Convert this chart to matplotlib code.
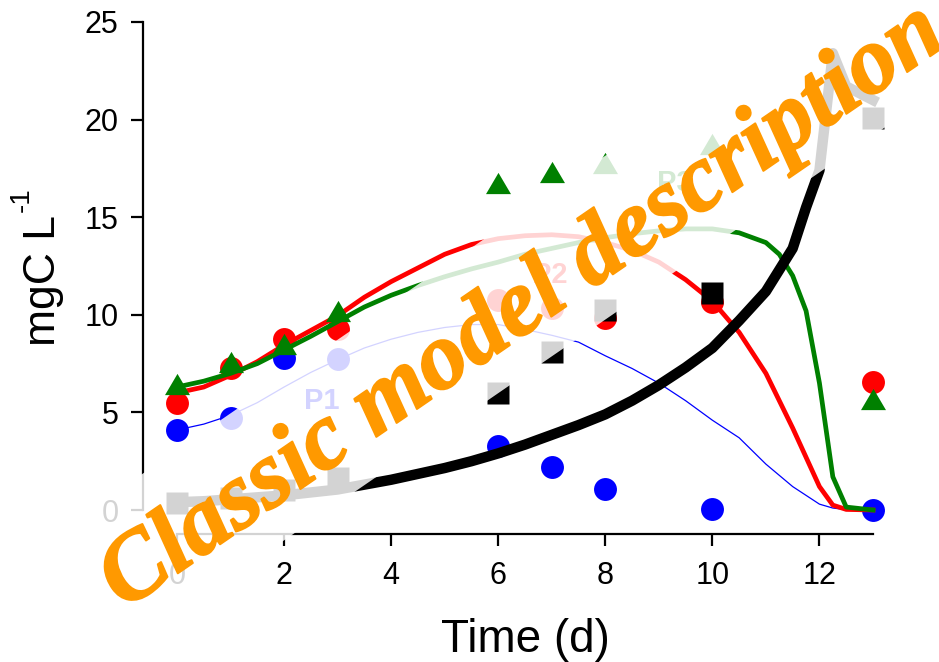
import numpy as np
import matplotlib
matplotlib.use("Agg")
import matplotlib.pyplot as plt
import matplotlib.patheffects as pe
from matplotlib.patches import Polygon
from matplotlib.transforms import IdentityTransform

plt.rcParams['font.family'] = ['Liberation Sans', 'DejaVu Sans']

# observations
obs_days = [0, 1, 2, 3, 6, 7, 8, 10, 13]
p1_obs = [4.1, 4.7, 7.8, 7.75, 3.3, 2.2, 1.07, 0.05, 0.0]
p2_obs = [5.5, 7.3, 8.75, 9.27, 10.75, 10.35, 9.85, 10.65, 6.56]
p3_obs = [6.45, 7.6, 8.5, 10.2, 16.75, 17.3, 17.8, 18.75, 5.7]
b_days = [0, 1, 2, 3, 6, 7, 8, 10, 13]
b_obs = [0.35, 0.6, 1.0, 1.65, 6.0, 8.1, 10.25, 11.1, 20.1]

# model output
t_p1 = [0, 0.5, 1, 1.5, 2, 2.5, 3, 3.5, 4, 4.5, 5, 5.5, 6, 6.5, 7, 7.5, 8,
        8.5, 9, 9.5, 10, 10.5, 11, 11.5, 12, 12.25, 12.5, 13]
m_p1 = [4.1, 4.4, 4.85, 5.5, 6.3, 7.05, 7.7, 8.3, 8.75, 9.1, 9.35, 9.5, 9.5,
        9.25, 8.95, 8.6, 7.9, 7.25, 6.5, 5.6, 4.6, 3.7, 2.35, 1.2, 0.3, 0.1,
        0.02, 0.0]
t_p2 = [0, 0.5, 1, 1.5, 2, 2.5, 3, 3.5, 4, 4.5, 5, 5.5, 6, 6.5, 7, 7.5, 8,
        8.5, 9, 9.5, 10, 10.5, 11, 11.5, 12, 12.25, 12.5, 13]
m_p2 = [6.0, 6.3, 6.9, 7.6, 8.45, 9.2, 9.95, 10.9, 11.7, 12.4, 13.1, 13.6,
        13.9, 14.05, 14.1, 14.0, 13.7, 13.3, 12.7, 11.8, 10.7, 9.1, 7.0, 4.2,
        1.2, 0.25, 0.03, 0.0]
t_p3 = [0, 0.5, 1, 1.5, 2, 2.5, 3, 3.5, 4, 4.5, 5, 5.5, 6, 6.5, 7, 7.5, 8,
        8.5, 9, 9.5, 10, 10.5, 11, 11.25, 11.5, 11.75, 12, 12.25, 12.5, 13]
m_p3 = [6.3, 6.6, 7.0, 7.5, 8.2, 8.9, 9.65, 10.4, 11.0, 11.5, 11.95, 12.35,
        12.7, 13.1, 13.4, 13.7, 13.95, 14.15, 14.3, 14.4, 14.4, 14.2, 13.7,
        13.1, 12.0, 10.2, 6.5, 1.7, 0.15, 0.0]
t_b = [0, 0.5, 1, 1.5, 2, 2.5, 3, 3.5, 4, 4.5, 5, 5.5, 6, 6.5, 7, 7.5, 8,
       8.5, 9, 9.5, 10, 10.5, 11, 11.5, 11.75, 12, 12.25, 12.5, 13]
m_b = [0.4, 0.45, 0.55, 0.65, 0.75, 0.9, 1.05, 1.3, 1.55, 1.85, 2.15, 2.5,
       2.9, 3.35, 3.85, 4.35, 4.9, 5.6, 6.4, 7.3, 8.3, 9.7, 11.2, 13.4, 15.5,
       17.4, 23.4, 21.7, 21.0]

labels = [("P1", 2.70, 5.56, 'blue'), ("P2", 6.96, 12.06, 'red'),
          ("P3", 9.30, 16.73, 'green')]

tri = [(0, 0.85), (-1, -0.85), (1, -0.85)]

fig = plt.figure(figsize=(9.39, 6.62), dpi=100)
ax = fig.add_axes([0.1885, 0.2296, 0.7412, 0.7372])

kw = dict(linestyle='none', clip_on=False)
ax.plot(obs_days, p1_obs, marker='o', ms=16.5, color='blue', mec='none', **kw)
ax.plot(t_p1, m_p1, color='blue', lw=0.9, clip_on=False)
ax.plot(obs_days, p2_obs, marker='o', ms=16.5, color='red', mec='none', **kw)
ax.plot(t_p2, m_p2, color='red', lw=3.4, clip_on=False)
ax.plot(obs_days, p3_obs, marker=tri, ms=18, color='green', mec='none', **kw)
ax.plot(t_p3, m_p3, color='green', lw=3.4, clip_on=False)
ax.plot(b_days, b_obs, marker='s', ms=15.5, color='black', mec='none', **kw)
ax.plot(t_b, m_b, color='black', lw=7.5, clip_on=False)

for txt, x, y, c in labels:
    ax.text(x, y, txt, color=c, fontsize=21, fontweight='bold',
            ha='center', va='center')

ax.set_xlim(0, 13)
ax.set_ylim(0, 25)
ax.set_xticks([0, 2, 4, 6, 8, 10, 12])
ax.set_yticks([0, 5, 10, 15, 20, 25])
for s in ['top', 'right']:
    ax.spines[s].set_visible(False)
ax.spines['left'].set_position(('outward', 24.5))
ax.spines['bottom'].set_position(('outward', 17.3))
for s in ['left', 'bottom']:
    ax.spines[s].set_linewidth(1.6)
ax.tick_params(axis='both', length=8.6, width=1.6, labelsize=22)
ax.tick_params(axis='y', pad=9)
ax.tick_params(axis='x', pad=11)

ax.set_xlabel('Time (d)', fontsize=33)
ax.xaxis.set_label_coords(0.5, -0.222)
# unit label, exponent drawn as a separate raised piece
ax.set_ylabel('mgC L', fontsize=32)
ax.yaxis.set_label_coords(-0.162, 0.471)
ax.text(-0.2227, 0.635, '-1', rotation=90, fontsize=20, ha='center',
        va='center', transform=ax.transAxes)

# watermark: rotated text on a translucent white band (pixel geometry)
ang = 34.5
ox, oy = 123.6, 51.4
u = np.array([np.cos(np.radians(ang)), np.sin(np.radians(ang))])
v = np.array([-u[1], u[0]])
org = np.array([ox, oy])
corners = [org + a * u + b * v for a, b in
           [(-20, -33), (1100, -33), (1100, 102), (-20, 102)]]
band = Polygon(corners, closed=True, fc='white', ec='none', alpha=0.83,
               transform=IdentityTransform(), zorder=9)
fig.add_artist(band)
fig.text(ox / 939, oy / 662, 'Classic model description', rotation=ang,
         rotation_mode='anchor', ha='left', va='baseline', fontsize=68.7,
         family='Liberation Serif', weight='bold', style='italic',
         color='#ff9900', zorder=10,
         path_effects=[pe.withStroke(linewidth=1.4, foreground='#ff9900')])

fig.savefig('out.png', dpi=100)
